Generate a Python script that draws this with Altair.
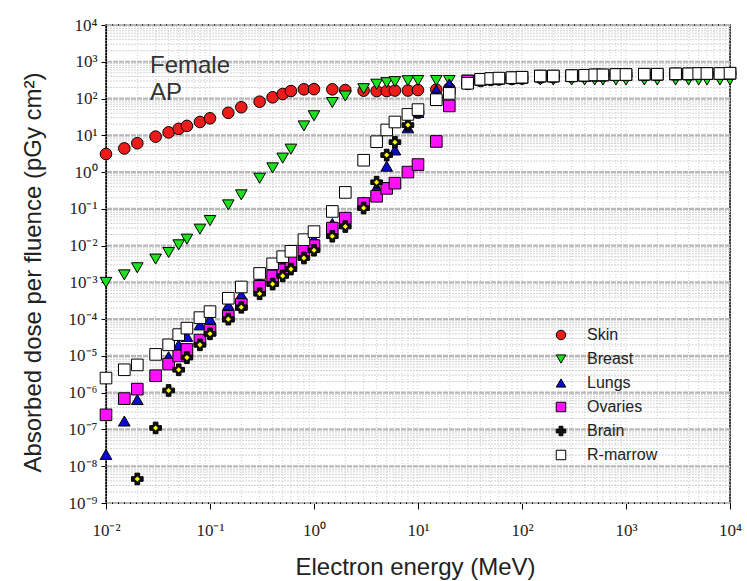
import json
import altair as alt
import pandas as pd

# Electron energies (MeV)
energy = [0.01, 0.015, 0.02, 0.03, 0.04, 0.05, 0.06, 0.08, 0.1, 0.15, 0.2, 0.3,
          0.4, 0.5, 0.6, 0.8, 1, 1.5, 2, 3, 4, 5, 6, 8, 10, 15, 20, 30, 40, 50,
          60, 80, 100, 150, 200, 300, 400, 500, 600, 800, 1000, 1500, 2000,
          3000, 4000, 5000, 6000, 8000, 10000]

# Absorbed dose per fluence (pGy cm^2), one list per organ
skin = [3.1, 4.4, 6.1, 9.2, 12, 15, 18, 23, 29, 41, 58, 82,
        108, 133, 160, 178, 180, 178, 170, 164, 160, 160, 165, 165, 170, 175, 190,
        250, 300, 320, 330, 340, 350, 370, 380, 390, 400, 410, 410, 420, 420,
        430, 430, 440, 440, 450, 450, 460, 470]
breast = [1.0e-3, 1.6e-3, 2.5e-3, 4.3e-3, 6.5e-3, 1.05e-2, 1.5e-2, 2.8e-2, 4.8e-2,
          0.128, 0.24, 0.68, 1.3, 2.4, 4.2, 18, 34, 78, 117, 185, 245, 270, 288,
          305, 310, 310, 310, 315, 320, 320, 320, 320, 320, 320, 320, 320, 320,
          320, 320, 320, 320, 320, 320, 320, 320, 320, 320, 320, 320]
lungs = [2.1e-8, 1.7e-7, 6.5e-7, 3.0e-6, 9.5e-6, 2.0e-5, 3.4e-5, 7.0e-5, 1.0e-4,
         2.4e-4, 4.6e-4, 1.1e-3, 2.0e-3, 3.2e-3, 4.5e-3, 9.0e-3, 1.5e-2, 4.0e-2,
         6.0e-2, 0.15, 0.38, 1.45, 4.0, 16, 42, 170, 250,
         255, 320, 340, 350, 360, 370, 400, 400, 410, 420, 430, 430, 440, 440,
         450, 450, 460, 460, 470, 470, 470, 480]
ovaries = [2.5e-7, 6.9e-7, 1.25e-6, 2.9e-6, 6.0e-6, 1.0e-5, 1.5e-5, 2.7e-5, 5.0e-5,
           1.2e-4, 2.5e-4, 7.8e-4, 1.5e-3, 2.2e-3, 3.5e-3, 7.5e-3, 1.0e-2, 3.0e-2,
           5.6e-2, 0.14, 0.22, 0.36, 0.5, 1.0, 1.6, 6.8, 63,
           300, 330, 345, 355, 365, 375, 405, 405, 415, 425, 435, 435, 445, 445,
           455, 455, 465, 465, 475, 475, 475, 485]
brain = [None, None, 4.5e-9, 1.1e-7, 1.15e-6, 4.2e-6, 9.0e-6, 2.0e-5, 4.0e-5,
         1.0e-4, 2.1e-4, 4.9e-4, 9.0e-4, 1.5e-3, 2.3e-3, 4.6e-3, 7.5e-3, 1.8e-2,
         3.3e-2, 0.105, 0.53, 2.9, 6.5, 19, 42, 100, 150,
         255, 325, 345, 355, 365, 375, 405, 405, 415, 425, 435, 435, 445, 445,
         455, 455, 465, 465, 475, 475, 475, 485]
marrow = [2.5e-6, 4.2e-6, 5.7e-6, 1.1e-5, 2.0e-5, 3.8e-5, 5.7e-5, 1.1e-4, 1.6e-4,
          3.7e-4, 7.5e-4, 1.75e-3, 3.2e-3, 5.0e-3, 7.0e-3, 1.45e-2, 2.4e-2, 8.5e-2,
          0.28, 2.1, 6.7, 14, 23, 37, 50, 93, 138,
          260, 334, 350, 360, 370, 380, 410, 410, 420, 430, 440, 440, 450, 450,
          460, 460, 470, 470, 480, 480, 480, 490]

organs = ["Skin", "Breast", "Lungs", "Ovaries", "Brain", "R-marrow"]
fills = ["#ee1b1b", "#1fe01f", "#0b0bd0", "#ff10ff", "#111111", "#ffffff"]
outlines = ["#000000"] * 6
shapes = ["circle", "triangle-down", "triangle-up", "square", "cross", "square"]
stroke_widths = [1, 1, 1, 1, 1.5, 1.3]
brain_core = "#ffff00"

x_tick_labels = ["10⁻²", "10⁻¹", "10⁰", "10¹", "10²", "10³", "10⁴"]
y_tick_labels = ["10⁻⁹", "10⁻⁸", "10⁻⁷", "10⁻⁶", "10⁻⁵", "10⁻⁴", "10⁻³",
                 "10⁻²", "10⁻¹", "10⁰", "10¹", "10²", "10³", "10⁴"]

rows = []
for k, (name, vals) in enumerate(zip(organs, [skin, breast, lungs, ovaries, brain, marrow])):
    for e, v in zip(energy, vals):
        if v is None:
            continue
        rows.append({"energy": e, "dose": v, "organ": name, "k": k})
df = pd.DataFrame(rows)

# gridline positions: decades and the 2..9 subdivisions
x_decades = [10.0 ** p for p in range(-2, 5)]
y_decades = [10.0 ** p for p in range(-9, 5)]
x_minor = [m * 10.0 ** p for p in range(-2, 4) for m in range(2, 10)]
y_minor = [m * 10.0 ** p for p in range(-9, 4) for m in range(2, 10)]

x_scale = alt.Scale(type="log", domain=[1e-2, 1e4], nice=False)
y_scale = alt.Scale(type="log", domain=[1e-9, 1e4], nice=False)

label_font = "Liberation Serif"
title_font = "Liberation Sans"

x_axis = alt.Axis(
    values=x_decades,
    labelExpr=json.dumps(x_tick_labels, ensure_ascii=False) + "[round(log(datum.value)/LN10)+2]",
    grid=False, tickSize=6, tickColor="black", domainColor="black",
    labelFont=label_font, labelFontSize=17, labelColor="#222", labelPadding=13,
    labelFlush=False,
    title="Electron energy (MeV)", titleFont=title_font, titleFontSize=24,
    titleFontWeight="normal", titleColor="#222", titleX=309, titleY=71,
    titleBaseline="alphabetic", titleAnchor="middle",
)
y_axis = alt.Axis(
    values=y_decades,
    labelExpr=json.dumps(y_tick_labels, ensure_ascii=False) + "[round(log(datum.value)/LN10)+9]",
    grid=False, tickSize=5, tickColor="black", domainColor="black",
    labelFont=label_font, labelFontSize=17, labelColor="#222", labelPadding=4,
    labelFlush=False,
    title="Absorbed dose per fluence (pGy cm²)", titleFont=title_font,
    titleFontSize=24, titleFontWeight="normal", titleColor="#222",
    titleX=-66, titleY=247, titleAngle=-90, titleBaseline="alphabetic",
    titleAlign="center",
)

x_enc = alt.X("v:Q", scale=x_scale, axis=x_axis)
y_enc = alt.Y("v:Q", scale=y_scale, axis=y_axis)

grid_v = alt.Chart(pd.DataFrame({"v": x_minor + x_decades})).mark_rule(
    color="#cfcfcf", strokeWidth=1, strokeDash=[1, 2]).encode(x=x_enc)
grid_h_minor = alt.Chart(pd.DataFrame({"v": y_minor})).mark_rule(
    color="#d2d2d2", strokeWidth=1, strokeDash=[2, 1]).encode(y=y_enc)
grid_h_major = alt.Chart(pd.DataFrame({"v": y_decades})).mark_rule(
    color="#b8b8b8", strokeWidth=2.2, strokeDash=[5, 1]).encode(y=y_enc)

legend = alt.Legend(
    title=None, orient="none", legendX=447, legendY=302,
    labelFont=title_font, labelFontSize=16, labelColor="#222",
    symbolSize=90, rowPadding=8, labelOffset=18, padding=0,
)

base = alt.Chart(df)
px = alt.X("energy:Q", scale=x_scale, axis=x_axis)
py = alt.Y("dose:Q", scale=y_scale, axis=y_axis)

points = base.mark_point(filled=True, opacity=1, size=135).encode(
    x=px, y=py,
    fill=alt.Fill("organ:N", scale=alt.Scale(domain=organs, range=fills), legend=legend),
    shape=alt.Shape("organ:N", scale=alt.Scale(domain=organs, range=shapes), legend=legend),
    stroke=alt.Stroke("organ:N", scale=alt.Scale(domain=organs, range=outlines), legend=legend),
    strokeWidth=alt.StrokeWidth("organ:N", scale=alt.Scale(domain=organs, range=stroke_widths), legend=legend),
    order=alt.Order("k:Q"),
)

# organs drawn beneath the marrow squares, then the yellow brain cores, then marrow
lower = points.transform_filter(alt.datum.organ != "R-marrow")
cores = base.transform_filter(alt.datum.organ == "Brain").mark_point(
    shape="diamond", filled=True, fill=brain_core, opacity=1, size=26
).encode(x=px, y=py)
upper = points.transform_filter(alt.datum.organ == "R-marrow")

note = alt.Chart(pd.DataFrame({"t": [0]})).mark_text(
    text=["Female", "AP"], font=title_font, fontSize=24, color="#333",
    align="left", baseline="alphabetic", lineHeight=27,
).encode(x=alt.value(44), y=alt.value(48))

chart = alt.layer(grid_v, grid_h_minor, grid_h_major, lower, cores, upper, note).properties(
    width=624, height=478,
    autosize=alt.AutoSizeParams(type="none"),
    padding={"left": 106, "top": 25, "right": 17, "bottom": 78},
    background="white",
).configure_view(stroke="black", strokeWidth=1.5)

chart.save("out.html", embed_options={"renderer": "svg", "actions": False})
